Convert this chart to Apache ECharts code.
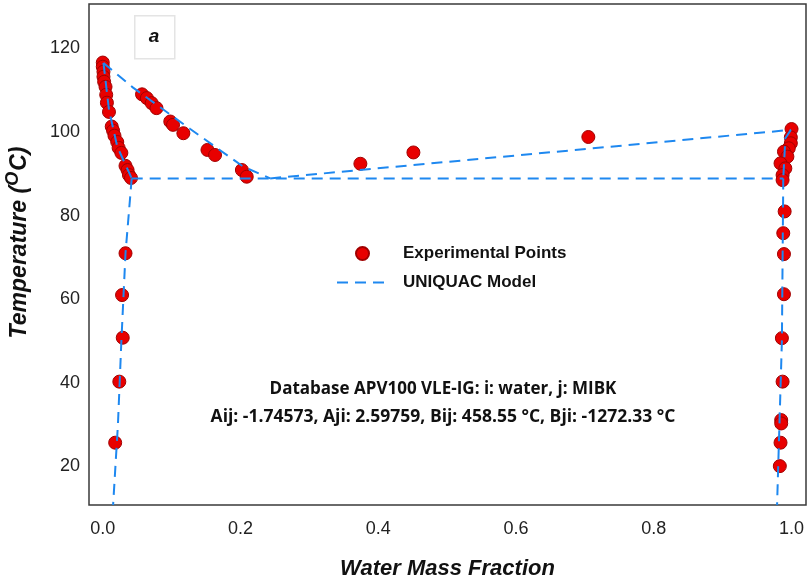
<!DOCTYPE html>
<html>
<head>
<meta charset="utf-8">
<script src="https://cdn.jsdelivr.net/npm/echarts@6/dist/echarts.min.js"></script>
<style>
  html, body { margin: 0; padding: 0; background: #fff; }
  #chart { width: 808px; height: 583px; }
</style>
</head>
<body>
<div id="chart"></div>
<script>
var chart = echarts.init(document.getElementById('chart'));

// experimental points [water mass fraction, T in °C]
const liquidMibkSide = [
  [0.000, 116.6], [0.000, 115.6], [0.001, 114.4], [0.001, 113.2], [0.002, 112.0],
  [0.004, 110.8], [0.005, 108.9], [0.006, 107.0], [0.009, 104.8], [0.013, 101.3],
  [0.015, 100.3], [0.017, 99.1], [0.021, 97.6], [0.023, 96.2], [0.027, 95.0],
  [0.033, 91.9], [0.036, 90.9], [0.038, 89.7], [0.041, 89.0]
];
const vaporMibkSide = [
  [0.057, 109.0], [0.064, 108.1], [0.071, 106.9], [0.078, 105.7], [0.098, 102.5],
  [0.102, 101.7], [0.117, 99.7], [0.152, 95.7], [0.163, 94.5], [0.202, 90.9],
  [0.209, 89.3]
];
const vaporWaterSide = [[0.374, 92.4], [0.451, 95.1], [0.705, 98.8]];
const liquidWaterSide = [
  [1.000, 100.7], [0.999, 98.7], [0.999, 97.3], [0.996, 96.1], [0.989, 95.3],
  [0.994, 94.1], [0.984, 92.5], [0.991, 91.3], [0.987, 89.7], [0.987, 88.5]
];
const lleWaterSide = [
  [0.990, 81.0], [0.988, 75.8], [0.989, 70.8], [0.989, 61.2], [0.986, 50.7],
  [0.987, 40.3], [0.985, 31.1], [0.985, 30.3], [0.984, 25.7], [0.983, 20.1]
];
const lleMibkSide = [[0.033, 71.0], [0.028, 61.0], [0.029, 50.8], [0.024, 40.3], [0.018, 25.7]];

// UNIQUAC model curves
const modelVaporLeft = [[0.001, 116.5], [0.044, 110.6], [0.127, 100.7], [0.204, 91.7], [0.243, 88.9]];
const modelVaporRight = [[0.243, 88.9], [0.999, 100.5]];
const modelLiquidLeft = [[0.001, 116.5], [0.009, 105.3], [0.021, 96.5], [0.042, 88.9]];
const modelLiquidRight = [[0.999, 100.5], [0.991, 98.5], [0.988, 88.9]];
const modelTieLine = [[0.042, 88.9], [0.988, 88.9]];
const modelLleLeft = [[0.042, 88.9], [0.033, 71.0], [0.027, 50.0], [0.022, 30.0], [0.015, 10.8]];
const modelLleRight = [[0.988, 88.9], [0.986, 50.0], [0.979, 10.8]];

const xTicks = [0, 0.2, 0.4, 0.6, 0.8, 1.0];
const yTicks = [20, 40, 60, 80, 100, 120];

const expPoints = [].concat(liquidMibkSide, vaporMibkSide, vaporWaterSide,
  liquidWaterSide, lleWaterSide, lleMibkSide);

const blue = '#1e88f0';
function modelSeries(data) {
  return {
    name: 'UNIQUAC Model',
    type: 'line',
    data: data,
    symbol: 'none',
    showSymbol: false,
    silent: true,
    lineStyle: { color: blue, width: 2, type: [11, 7] },
    itemStyle: { color: blue },
    z: 3
  };
}

const option = {
  animation: false,
  grid: {
    left: 89, right: 2, top: 4, bottom: 78,
    outerBoundsMode: 'none',
    containLabel: false,
    show: true, borderColor: '#3a3a3a', borderWidth: 1.5
  },
  legend: {
    orient: 'vertical',
    left: 331,
    top: 240,
    itemWidth: 51,
    itemHeight: 13,
    itemGap: 12,
    data: [
      { name: 'Experimental Points', icon: 'circle' },
      { name: 'UNIQUAC Model', itemStyle: { opacity: 0 } }
    ],
    textStyle: {
      fontFamily: 'Liberation Sans', fontSize: 17, fontWeight: 'bold',
      color: '#111', padding: [0, 0, 0, 10], lineHeight: 17
    }
  },
  xAxis: {
    type: 'value',
    min: -0.02,
    max: 1.021,
    axisLine: { show: false },
    axisTick: { show: false },
    splitLine: { show: false },
    axisLabel: {
      customValues: xTicks,
      formatter: function (v) { return v.toFixed(1); },
      fontFamily: 'Liberation Sans', fontSize: 18, color: '#222', margin: 15
    },
    name: 'Water Mass Fraction',
    nameLocation: 'middle',
    nameGap: 53,
    nameTextStyle: {
      fontFamily: 'Liberation Sans', fontSize: 22, fontWeight: 'bold',
      fontStyle: 'italic', color: '#111'
    }
  },
  yAxis: {
    type: 'value',
    min: 10.8,
    max: 130.6,
    axisLine: { show: false },
    axisTick: { show: false },
    splitLine: { show: false },
    axisLabel: {
      customValues: yTicks,
      fontFamily: 'Liberation Sans', fontSize: 18, color: '#222', margin: 9
    },
    name: '{m|Temperature (}{s|O}{m|C)}',
    nameLocation: 'middle',
    nameGap: 54,
    nameTextStyle: {
      padding: [0, 0, 0, 24],
      rich: {
        m: { fontFamily: 'Liberation Sans', fontSize: 23, fontWeight: 'bold', fontStyle: 'italic', color: '#111', lineHeight: 30 },
        s: { fontFamily: 'Liberation Sans', fontSize: 18, fontWeight: 'bold', fontStyle: 'italic', color: '#111', lineHeight: 30, padding: [0, 1, 14, 0] }
      }
    }
  },
  graphic: [
    {
      type: 'rect', left: 134, top: 15,
      shape: { width: 40, height: 43 },
      style: { fill: '#fff', stroke: '#e4e4e4', lineWidth: 1.5 }
    },
    {
      type: 'text', x: 154, y: 37,
      style: {
        text: 'a', align: 'center', verticalAlign: 'middle',
        font: 'italic bold 19px "Liberation Sans"', fill: '#111'
      }
    },
    {
      type: 'text', x: 443, y: 389,
      style: {
        text: 'Database APV100 VLE-IG: i: water, j: MIBK', align: 'center', verticalAlign: 'middle',
        font: 'bold 17px "Open Sans"', fill: '#111'
      }
    },
    {
      type: 'text', x: 443, y: 417,
      style: {
        text: 'Aij: -1.74573, Aji: 2.59759, Bij: 458.55 °C, Bji: -1272.33 °C', align: 'center', verticalAlign: 'middle',
        font: 'bold 17.5px "Open Sans"', fill: '#111'
      }
    }
  ],
  series: [
    {
      name: 'Experimental Points',
      type: 'scatter',
      data: expPoints,
      symbolSize: 13,
      itemStyle: { color: '#e80000', borderColor: '#a00000', borderWidth: 1, opacity: 1 },
      z: 2
    },
    modelSeries(modelVaporLeft),
    modelSeries(modelVaporRight),
    modelSeries(modelLiquidLeft),
    modelSeries(modelLiquidRight),
    modelSeries(modelTieLine),
    modelSeries(modelLleLeft),
    modelSeries(modelLleRight)
  ]
};
chart.setOption(option);
</script>
</body>
</html>
